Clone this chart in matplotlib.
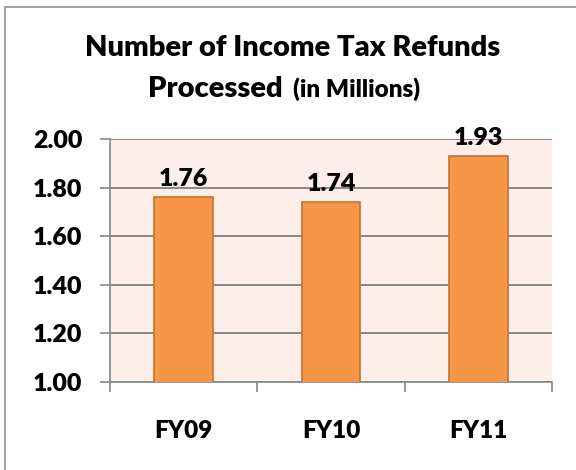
import numpy as np
import matplotlib
matplotlib.use("Agg")
import matplotlib.pyplot as plt
from matplotlib.patches import Rectangle

# dati
years = ["FY09", "FY10", "FY11"]
refunds = [1.76, 1.74, 1.93]
yticks = [1.00, 1.20, 1.40, 1.60, 1.80, 2.00]

plt.rcParams['font.family'] = ['Lato', 'DejaVu Sans']
PESO = 'heavy'

W, H = 576, 470
fig = plt.figure(figsize=(W/100, H/100), dpi=100)
fig.patch.set_facecolor('white')

# cornice esterna
fig.patches.append(Rectangle((5/W, -0.1), 1.2, 1 - 7/H + 0.1, transform=fig.transFigure,
                             fill=False, edgecolor='#878787', linewidth=1.1))

ax = fig.add_axes([110/W, 1 - 382/H, (552-110)/W, (382-139)/H])
ax.set_facecolor('#FDEEE9')

x = np.arange(len(years))
bars = ax.bar(x, refunds, width=0.40, bottom=0, color='#F79646',
              edgecolor='#BE7436', linewidth=1.2, zorder=3)

ax.set_ylim(1.0, 2.0)
ax.set_xlim(-0.5, len(years) - 0.5)
ax.set_yticks(yticks)
ax.set_yticklabels(['%.2f' % v for v in yticks], fontsize=18, fontweight=PESO)
ax.yaxis.grid(True, color='#878787', linewidth=1.4, zorder=1)
ax.set_axisbelow(True)

# etichette categorie al centro, tacche ai bordi
ax.set_xticks(x)
ax.set_xticklabels(years, fontsize=17.5, fontweight=PESO)
ax.set_xticks(np.arange(len(years) + 1) - 0.5, minor=True)
ax.tick_params(axis='x', which='major', length=0, pad=27)
ax.tick_params(axis='x', which='minor', length=7, color='#878787', width=1.2)
ax.tick_params(axis='y', length=7, color='#878787', width=1.2, pad=13)

for s in ['top', 'right']:
    ax.spines[s].set_visible(False)
for s in ['left', 'bottom']:
    ax.spines[s].set_color('#878787')
    ax.spines[s].set_linewidth(1.2)

# valori sopra le barre
for xi, v in zip(x, refunds):
    ax.annotate('%.2f' % v, (xi, v), xytext=(0, 8), textcoords='offset points',
                ha='center', va='baseline', fontsize=18, fontweight=PESO, zorder=4)

# titolo
fig.text(293/W, 1 - 56/H, 'Number of Income Tax Refunds', ha='center', va='baseline',
         fontsize=21, fontweight=PESO)
fig.text(283/W, 1 - 97/H, 'Processed', ha='right', va='baseline',
         fontsize=21, fontweight=PESO)
fig.text(293/W, 1 - 97/H, '(in Millions)', ha='left', va='baseline',
         fontsize=17.5, fontweight=PESO)

fig.savefig('out.png', dpi=100)
